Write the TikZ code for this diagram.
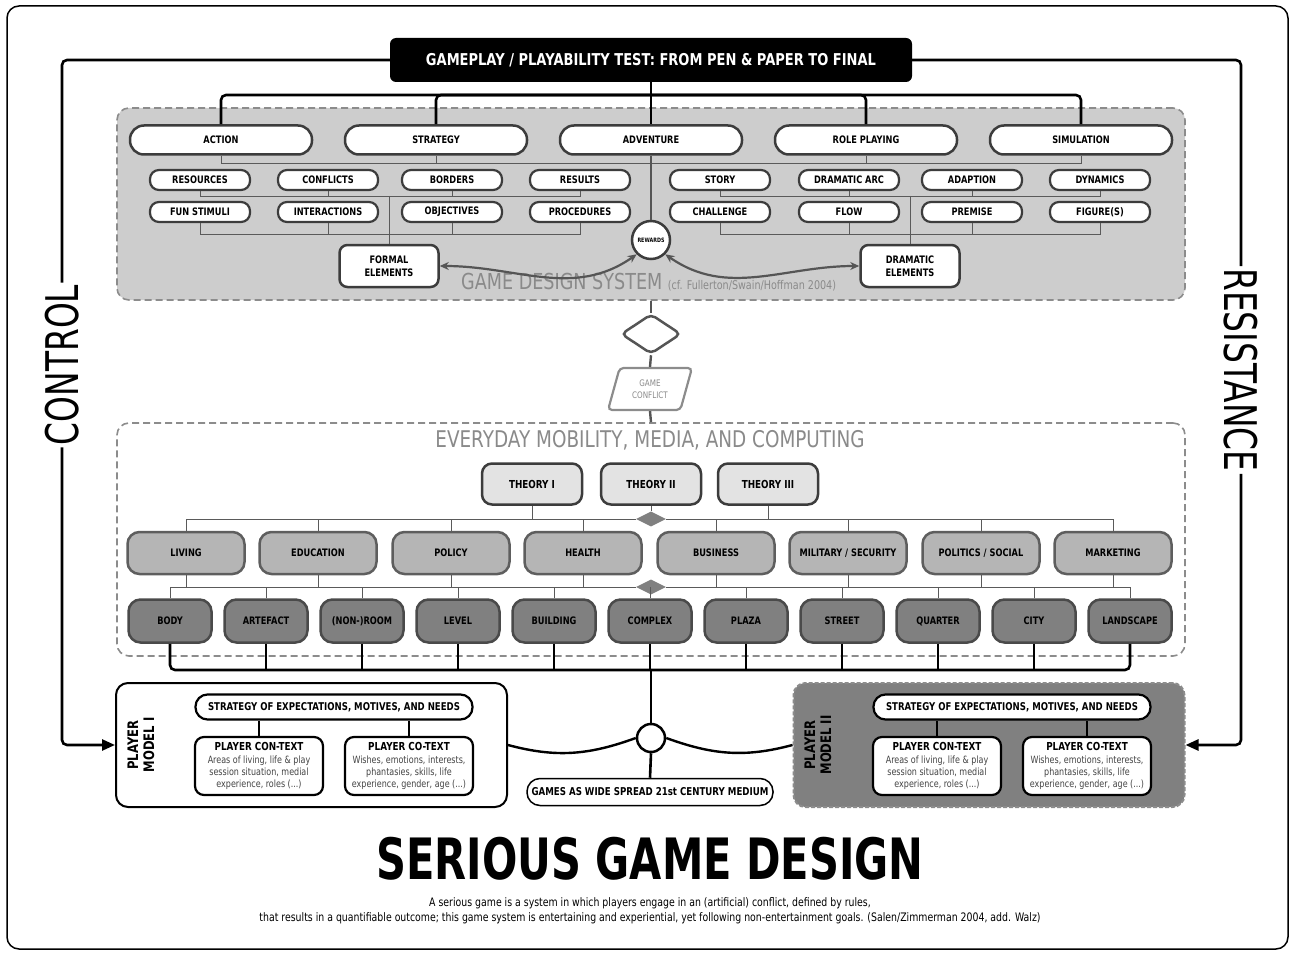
\documentclass[tikz,border=0pt]{standalone}
\usepackage{fontspec}
\setmainfont{DejaVu Sans}[FakeStretch=0.8]
\newfontfamily\narrowfont{DejaVu Sans}[FakeStretch=0.73]
\usetikzlibrary{shapes.geometric,arrows.meta}

\definecolor{edgegray}{HTML}{3C3C3C}
\definecolor{dashgray}{HTML}{8C8C8C}
\definecolor{panelgray}{HTML}{CDCDCD}
\definecolor{theorygray}{HTML}{E3E3E3}
\definecolor{domgray}{HTML}{B5B5B5}
\definecolor{domedge}{HTML}{5E5E5E}
\definecolor{spacegray}{HTML}{808080}
\definecolor{spaceedge}{HTML}{4A4A4A}
\definecolor{spinegray}{HTML}{555555}
\definecolor{linkgray}{HTML}{5A5A5A}
\definecolor{textgray}{HTML}{444444}
\definecolor{titlegray}{HTML}{8A8A8A}

\tikzset{
  every node/.style={inner sep=0pt},
  boldtext/.style={font=\bfseries\fontsize{10.3}{12}\selectfont},
  genre/.style={draw=edgegray, line width=2.5pt, fill=white, rounded corners=14pt, minimum width=182pt, minimum height=29pt, boldtext},
  elem/.style={draw=edgegray, line width=2.2pt, fill=white, rounded corners=9pt, minimum width=100pt, minimum height=20pt, boldtext},
  cluster/.style={draw=edgegray, line width=2.5pt, fill=white, rounded corners=8pt, minimum width=99pt, minimum height=42pt, align=center, font=\bfseries\fontsize{10.3}{13}\selectfont},
  panel/.style={draw=dashgray, dash pattern=on 7pt off 4pt, line width=1.6pt, rounded corners=12pt},
  theory/.style={draw=edgegray, line width=2.5pt, fill=theorygray, rounded corners=10pt, minimum width=100pt, minimum height=41pt, font=\bfseries\fontsize{11}{13}\selectfont},
  field/.style={draw=domedge, line width=2.5pt, fill=domgray, rounded corners=12pt, minimum width=117pt, minimum height=42pt, boldtext},
  spacebox/.style={draw=spaceedge, line width=2.5pt, fill=spacegray, rounded corners=12pt, minimum width=83pt, minimum height=43pt, boldtext},
  joint/.style={diamond, fill=spacegray, minimum width=30pt, minimum height=15pt},
  bus/.style={line width=2.6pt, rounded corners=5pt},
  link/.style={draw=linkgray, line width=0.9pt},
  spine/.style={draw=spinegray, line width=2.4pt},
  swing/.style={draw=spinegray, line width=2.2pt, {Stealth[length=9pt,width=8pt]}-{Stealth[length=9pt,width=8pt]}},
  ctx/.style={draw=black, line width=2.2pt, fill=white, rounded corners=9pt, minimum width=128pt, minimum height=58pt, align=center, font=\fontsize{10}{12}\selectfont},
  strat/.style={draw=black, line width=2.2pt, fill=white, rounded corners=12pt, minimum width=277pt, minimum height=25pt, font=\bfseries\fontsize{10.7}{12}\selectfont},
  model/.style={line width=2pt, rounded corners=12pt, minimum width=391pt, minimum height=124pt},
  modeltag/.style={rotate=90, align=center, font=\bfseries\fontsize{14.5}{16}\selectfont},
  sidetext/.style={font=\narrowfont\fontsize{45}{50}\selectfont, inner sep=2pt},
  arrowtip/.style={-{Triangle[length=13pt,width=11pt]}},
}

\begin{document}
\begin{tikzpicture}[x=1pt, y=-1pt]
\useasboundingbox (0,0) rectangle (1294,955);
\draw[line width=1.5pt, rounded corners=12pt] (7,6) rectangle (1288,949);

% panels
\node[panel, fill=panelgray, minimum width=1068pt, minimum height=192pt] (gds) at (651,204){};
\node[panel, fill=white, minimum width=1068pt, minimum height=233pt] (mob) at (651,539.5){};
\node[anchor=base west, text=titlegray] (gdstitle) at (461,289){\fontsize{22}{24}\selectfont GAME DESIGN SYSTEM \fontsize{12}{13}\selectfont (cf. Fullerton/Swain/Hoffman 2004)};
\node[text=titlegray, font=\fontsize{23}{25}\selectfont] (mobtitle) at (650,440){EVERYDAY MOBILITY, MEDIA, AND COMPUTING};

% test and genres
\node[fill=black, text=white, rounded corners=6pt, minimum width=522pt, minimum height=44pt, font=\bfseries\fontsize{16.3}{18}\selectfont] (test) at (651,60){GAMEPLAY / PLAYABILITY TEST: FROM PEN \& PAPER TO FINAL};
\node[genre] (action) at (221,140){ACTION};
\node[genre] (strategy) at (436,140){STRATEGY};
\node[genre] (adventure) at (651,140){ADVENTURE};
\node[genre] (roleplay) at (866,140){ROLE PLAYING};
\node[genre] (simulation) at (1081,140){SIMULATION};
\coordinate (gbus) at (651,95);
\draw[bus](test.south) -- (gbus);
\draw[bus](gbus) -| (action.north);
\draw[bus](gbus) -| (strategy.north);
\draw[bus](gbus) -- (adventure.north);
\draw[bus](gbus) -| (roleplay.north);
\draw[bus](gbus) -| (simulation.north);
\coordinate (gline) at (651,163);
\draw[link](action.south) |- (gline);
\draw[link](simulation.south) |- (gline);
\draw[link](strategy.south) -- (strategy.south |- gline);
\draw[link](roleplay.south) -- (roleplay.south |- gline);

% formal elements
\node[elem] (resources) at (200,180){RESOURCES};
\node[elem] (conflicts) at (328,180){CONFLICTS};
\node[elem] (borders) at (452,180){BORDERS};
\node[elem] (results) at (580,180){RESULTS};
\node[elem] (funstim) at (200,212){FUN STIMULI};
\node[elem] (interact) at (328,212){INTERACTIONS};
\node[elem] (objectives) at (452,212){OBJECTIVES};
\node[elem] (procedures) at (580,212){PROCEDURES};
\node[cluster] (formal) at (389,266){FORMAL\\ELEMENTS};
\coordinate (fbus1) at (389,196);
\coordinate (fbus2) at (389,234);
\draw[link](resources.south) |- (fbus1);
\draw[link](results.south) |- (fbus1);
\draw[link](conflicts.south) -- (conflicts.south |- fbus1);
\draw[link](borders.south) -- (borders.south |- fbus1);
\draw[link](funstim.south) |- (fbus2);
\draw[link](procedures.south) |- (fbus2);
\draw[link](interact.south) -- (interact.south |- fbus2);
\draw[link](objectives.south) -- (objectives.south |- fbus2);
\draw[link](fbus1) -- (formal.north);

% dramatic elements
\node[elem] (story) at (720,180){STORY};
\node[elem] (dramarc) at (849,180){DRAMATIC ARC};
\node[elem] (adaption) at (972,180){ADAPTION};
\node[elem] (dynamics) at (1100,180){DYNAMICS};
\node[elem] (challenge) at (720,212){CHALLENGE};
\node[elem] (flow) at (849,212){FLOW};
\node[elem] (premise) at (972,212){PREMISE};
\node[elem] (figures) at (1100,212){FIGURE(S)};
\node[cluster] (dramatic) at (910,266){DRAMATIC\\ELEMENTS};
\coordinate (dbus1) at (910,196);
\coordinate (dbus2) at (910,234);
\draw[link](story.south) |- (dbus1);
\draw[link](dynamics.south) |- (dbus1);
\draw[link](dramarc.south) -- (dramarc.south |- dbus1);
\draw[link](adaption.south) -- (adaption.south |- dbus1);
\draw[link](challenge.south) |- (dbus2);
\draw[link](figures.south) |- (dbus2);
\draw[link](flow.south) -- (flow.south |- dbus2);
\draw[link](premise.south) -- (premise.south |- dbus2);
\draw[link](dbus1) -- (dramatic.north);

% rewards
\node[circle, draw=edgegray, line width=2.5pt, fill=white, minimum size=38pt, font=\bfseries\fontsize{6}{7}\selectfont] (rewards) at (651,240){REWARDS};
\draw[spine](adventure.south) -- (rewards.north);
\draw[swing](formal.east) to[out=0, in=215] (rewards.south west);
\draw[swing](rewards.south east) to[out=-35, in=180] (dramatic.west);

% game conflict
\node[diamond, draw=spinegray, line width=2.5pt, fill=white, rounded corners=5pt, minimum width=60pt, minimum height=40pt] (choice) at (651,334){};
\node[trapezium, trapezium left angle=70, trapezium right angle=110, trapezium stretches=true, draw=dashgray, line width=2.2pt, fill=white, rounded corners=4pt, minimum width=84pt, minimum height=42pt, align=center, text=titlegray, font=\fontsize{9}{12}\selectfont] (conflict) at (650,389){GAME\\CONFLICT};
\draw[spine](gds.south) -- (choice.north);
\draw[spine](choice.south) -- (conflict.north);
\draw[spine](conflict.south) -- (mob.north);

% theories and fields
\node[theory] (theory1) at (532,484){THEORY I};
\node[theory] (theory2) at (651,484){THEORY II};
\node[theory] (theory3) at (768,484){THEORY III};
\node[joint] (joint1) at (651,519){};
\node[joint] (joint2) at (651,587){};
\node[field] (living) at (186,553){LIVING};
\node[field] (education) at (318,553){EDUCATION};
\node[field] (policy) at (451,553){POLICY};
\node[field] (health) at (583,553){HEALTH};
\node[field] (business) at (716,553){BUSINESS};
\node[field] (military) at (848,553){MILITARY / SECURITY};
\node[field] (politics) at (981,553){POLITICS / SOCIAL};
\node[field] (marketing) at (1113,553){MARKETING};
\draw[link](theory1.south) |- (joint1);
\draw[link](theory3.south) |- (joint1);
\draw[link](theory2.south) -- (joint1.north);
\draw[link](living.north) |- (joint1);
\draw[link](marketing.north) |- (joint1);
\foreach \d in {education,policy,health,business,military,politics}
  \draw[link](\d.north) -- (\d.north |- joint1);

% spaces
\node[spacebox] (body) at (170,621){BODY};
\node[spacebox] (artefact) at (266,621){ARTEFACT};
\node[spacebox] (room) at (362,621){(NON-)ROOM};
\node[spacebox] (level) at (458,621){LEVEL};
\node[spacebox] (building) at (554,621){BUILDING};
\node[spacebox] (complex) at (650,621){COMPLEX};
\node[spacebox] (plaza) at (746,621){PLAZA};
\node[spacebox] (street) at (842,621){STREET};
\node[spacebox] (quarter) at (938,621){QUARTER};
\node[spacebox] (city) at (1034,621){CITY};
\node[spacebox] (landscape) at (1130,621){LANDSCAPE};
\draw[link](body.north) |- (joint2);
\draw[link](landscape.north) |- (joint2);
\foreach \s in {artefact,room,level,building,complex,plaza,street,quarter,city}
  \draw[link](\s.north) -- (\s.north |- joint2);
\foreach \d in {living,education,policy,health,business,military,politics,marketing}
  \draw[link](\d.south) -- (\d.south |- joint2);
\coordinate (sbus) at (651,670);
\draw[bus](body.south) |- (sbus);
\draw[bus](landscape.south) |- (sbus);
\foreach \s in {artefact,room,level,building,complex,plaza,street,quarter,city}
  \draw[bus](\s.south) -- (\s.south |- sbus);

% hub and medium
\node[circle, draw, line width=2.5pt, fill=white, minimum size=28pt] (hub) at (651,738){};
\node[draw, line width=1.5pt, rounded corners=13pt, minimum width=246pt, minimum height=27pt, font=\bfseries\fontsize{10.8}{12}\selectfont] (medium) at (650,792){GAMES AS WIDE SPREAD 21st CENTURY MEDIUM};
\draw[bus](sbus) -- (hub.north);
\draw[bus](hub.south) -- (medium.north);

% player model I
\node[model, draw=black, fill=white] (pm1) at (311.5,745){};
\node[modeltag] (pm1tag) at (141,745){PLAYER\\MODEL I};
\node[strat] (strat1) at (334,707){STRATEGY OF EXPECTATIONS, MOTIVES, AND NEEDS};
\node[ctx] (con1) at (259,766){\textbf{\fontsize{11}{12}\selectfont PLAYER CON-TEXT}\\[1pt]\textcolor{textgray}{Areas of living, life \& play}\\\textcolor{textgray}{session situation, medial}\\\textcolor{textgray}{experience, roles (...)}};
\node[ctx] (cot1) at (409,766){\textbf{\fontsize{11}{12}\selectfont PLAYER CO-TEXT}\\[1pt]\textcolor{textgray}{Wishes, emotions, interests,}\\\textcolor{textgray}{phantasies, skills, life}\\\textcolor{textgray}{experience, gender, age (...)}};
\draw[line width=1.5pt](con1.north) -- (con1.north |- strat1.south);
\draw[line width=1.5pt](cot1.north) -- (cot1.north |- strat1.south);

% player model II
\node[model, draw=dashgray, dash pattern=on 4pt off 2pt, fill=spacegray] (pm2) at (989,745){};
\node[modeltag] (pm2tag) at (818,745){PLAYER\\MODEL II};
\node[strat] (strat2) at (1012,707){STRATEGY OF EXPECTATIONS, MOTIVES, AND NEEDS};
\node[ctx] (con2) at (937,766){\textbf{\fontsize{11}{12}\selectfont PLAYER CON-TEXT}\\[1pt]\textcolor{textgray}{Areas of living, life \& play}\\\textcolor{textgray}{session situation, medial}\\\textcolor{textgray}{experience, roles (...)}};
\node[ctx] (cot2) at (1087,766){\textbf{\fontsize{11}{12}\selectfont PLAYER CO-TEXT}\\[1pt]\textcolor{textgray}{Wishes, emotions, interests,}\\\textcolor{textgray}{phantasies, skills, life}\\\textcolor{textgray}{experience, gender, age (...)}};
\draw[line width=1.5pt](con2.north) -- (con2.north |- strat2.south);
\draw[line width=1.5pt](cot2.north) -- (cot2.north |- strat2.south);

\draw[line width=2.4pt](pm1.east) to[out=-15, in=200] (hub.west);
\draw[line width=2.4pt](hub.east) to[out=-20, in=195] (pm2.west);

% control and resistance
\node[sidetext, rotate=90] (control) at (62,365){CONTROL};
\node[sidetext, rotate=-90] (resistance) at (1241,370){RESISTANCE};
\draw[bus](test.west) -| (control.east);
\draw[bus, arrowtip](control.west) |- (pm1.west);
\draw[bus](test.east) -| (resistance.west);
\draw[bus, arrowtip](resistance.east) |- (pm2.east);

% title
\node[font=\narrowfont\bfseries\fontsize{57}{60}\selectfont] (title) at (650,859){SERIOUS GAME DESIGN};
\node[align=center, font=\fontsize{11.7}{15}\selectfont] (definition) at (650,911){A serious game is a system in which players engage in an (artificial) conflict, defined by rules,\\that results in a quantifiable outcome; this game system is entertaining and experiential, yet following non-entertainment goals. (Salen/Zimmerman 2004, add. Walz)};
\end{tikzpicture}
\end{document}
